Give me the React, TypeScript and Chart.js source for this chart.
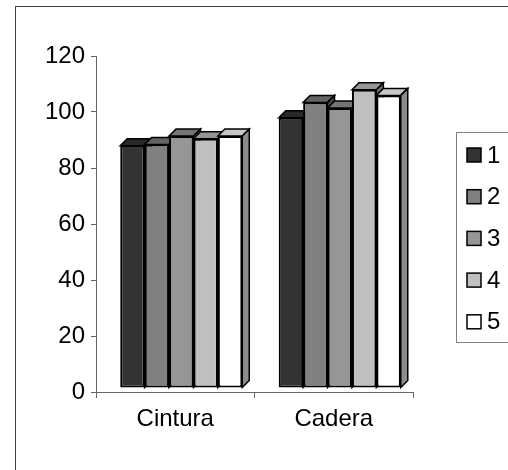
import React, { useEffect, useRef } from "react";
import { Chart, registerables } from "chart.js";

Chart.register(...registerables);

// Categories and per-series values (one array per series)
const categories = ["Cintura", "Cadera"];
const seriesLabels = ["1", "2", "3", "4", "5"];
const serie1 = [86.5, 96.5];
const serie2 = [87, 102];
const serie3 = [90, 100];
const serie4 = [89, 106.5];
const serie5 = [90, 104.5];
const seriesValues = [serie1, serie2, serie3, serie4, serie5];
const seriesColors = ["#333333", "#808080", "#969696", "#c0c0c0", "#ffffff"];

const yMin = 0;
const yMax = 120;
const yStep = 20;

const FONT = '"Liberation Sans", Arial, sans-serif';

function shade(hex: string, k: number): string {
  const n = parseInt(hex.slice(1), 16);
  const r = Math.round(((n >> 16) & 255) * k);
  const g = Math.round(((n >> 8) & 255) * k);
  const b = Math.round((n & 255) * k);
  return `rgb(${r},${g},${b})`;
}

// Oblique depth of the columns and the offset of their front plane
const DEPTH = 7;
const FRONT_DX = 6;
const FRONT_DY = -4;

// Columns are painted left to right, front face then top and side faces,
// so each column correctly hides the side of the one before it.
const columns3d = {
  id: "columns3d",
  beforeDatasetDraw() {
    return false;
  },
  afterDatasetsDraw(chart: any) {
    const ctx = chart.ctx;
    ctx.save();
    ctx.translate(FRONT_DX, FRONT_DY);
    const n = chart.data.datasets.length;
    const nCat = chart.data.labels.length;
    for (let c = 0; c < nCat; c++) {
      for (let i = 0; i < n; i++) {
        const meta = chart.getDatasetMeta(i);
        const el = meta.data[c];
        if (!el) continue;
        const color = chart.data.datasets[i].backgroundColor as string;
        el.draw(ctx, chart.chartArea);
        const { x, y, base, width } = el.getProps(["x", "y", "base", "width"], true);
        const l = x - width / 2;
        const r = x + width / 2;
        ctx.save();
        ctx.lineWidth = 1.5;
        ctx.strokeStyle = "#000";
        ctx.lineJoin = "miter";
        // top face
        ctx.beginPath();
        ctx.moveTo(l, y);
        ctx.lineTo(l + DEPTH, y - DEPTH);
        ctx.lineTo(r + DEPTH, y - DEPTH);
        ctx.lineTo(r, y);
        ctx.closePath();
        ctx.fillStyle = shade(color, 0.78);
        ctx.fill();
        ctx.stroke();
        // right side face
        ctx.beginPath();
        ctx.moveTo(r, y);
        ctx.lineTo(r + DEPTH, y - DEPTH);
        ctx.lineTo(r + DEPTH, base - DEPTH);
        ctx.lineTo(r, base);
        ctx.closePath();
        ctx.fillStyle = shade(color, 0.55);
        ctx.fill();
        ctx.stroke();
        ctx.restore();
      }
    }
    ctx.restore();
  },
};

// Frame around the whole chart and the boxed legend on the right
const frameAndLegend = {
  id: "frameAndLegend",
  afterDraw(chart: any) {
    const ctx = chart.ctx;
    ctx.save();
    ctx.strokeStyle = "#404040";
    ctx.lineWidth = 1;
    ctx.strokeRect(15.5, 6.5, 600, 600);

    const boxX = 456.5;
    const boxY = 132.5;
    ctx.strokeStyle = "#808080";
    ctx.strokeRect(boxX, boxY, 100, 210);

    ctx.font = `24px ${FONT}`;
    ctx.textBaseline = "middle";
    ctx.textAlign = "left";
    chart.data.datasets.forEach((ds: any, i: number) => {
      const cy = 155 + i * 41.7;
      ctx.fillStyle = ds.backgroundColor;
      ctx.fillRect(467, cy - 7, 14, 14);
      ctx.strokeStyle = "#000";
      ctx.lineWidth = 1.5;
      ctx.strokeRect(467, cy - 7, 14, 14);
      ctx.fillStyle = "#000";
      ctx.fillText(ds.label, 487, cy + 1);
    });
    ctx.restore();
  },
};

export default function App() {
  const ref = useRef<HTMLCanvasElement | null>(null);

  useEffect(() => {
    if (!ref.current) return;
    const chart = new Chart(ref.current, {
      type: "bar",
      data: {
        labels: categories,
        datasets: seriesLabels.map((label, i) => ({
          label,
          data: seriesValues[i],
          backgroundColor: seriesColors[i],
          borderColor: "#000000",
          borderWidth: 2,
          borderSkipped: false,
          categoryPercentage: 0.77,
          barPercentage: 1,
        })),
      },
      options: {
        responsive: false,
        animation: false,
        devicePixelRatio: 1,
        layout: { padding: { top: 56, right: 95, bottom: 0, left: 0 } },
        plugins: {
          legend: { display: false },
          tooltip: { enabled: false },
        },
        scales: {
          x: {
            grid: {
              offset: true,
              drawOnChartArea: false,
              drawTicks: true,
              tickLength: 6,
              color: "#666666",
            },
            border: { color: "#666666", width: 1 },
            ticks: {
              color: "#000",
              font: { family: FONT, size: 24 },
              padding: 7,
            },
            afterFit(scale: any) {
              scale.height = 78;
            },
          },
          y: {
            min: yMin,
            max: yMax,
            grid: {
              drawOnChartArea: false,
              drawTicks: true,
              tickLength: 5,
              color: "#666666",
            },
            border: { color: "#666666", width: 1 },
            ticks: {
              stepSize: yStep,
              color: "#000",
              font: { family: FONT, size: 24 },
              padding: 6,
            },
            afterFit(scale: any) {
              scale.width = 96;
            },
          },
        },
      },
      plugins: [columns3d, frameAndLegend],
    });
    return () => chart.destroy();
  }, []);

  return (
    <div style={{ position: "fixed", left: 0, top: 0, width: 508, height: 470, background: "#fff" }}>
      <canvas ref={ref} width={508} height={470} style={{ width: 508, height: 470, display: "block" }} />
    </div>
  );
}
